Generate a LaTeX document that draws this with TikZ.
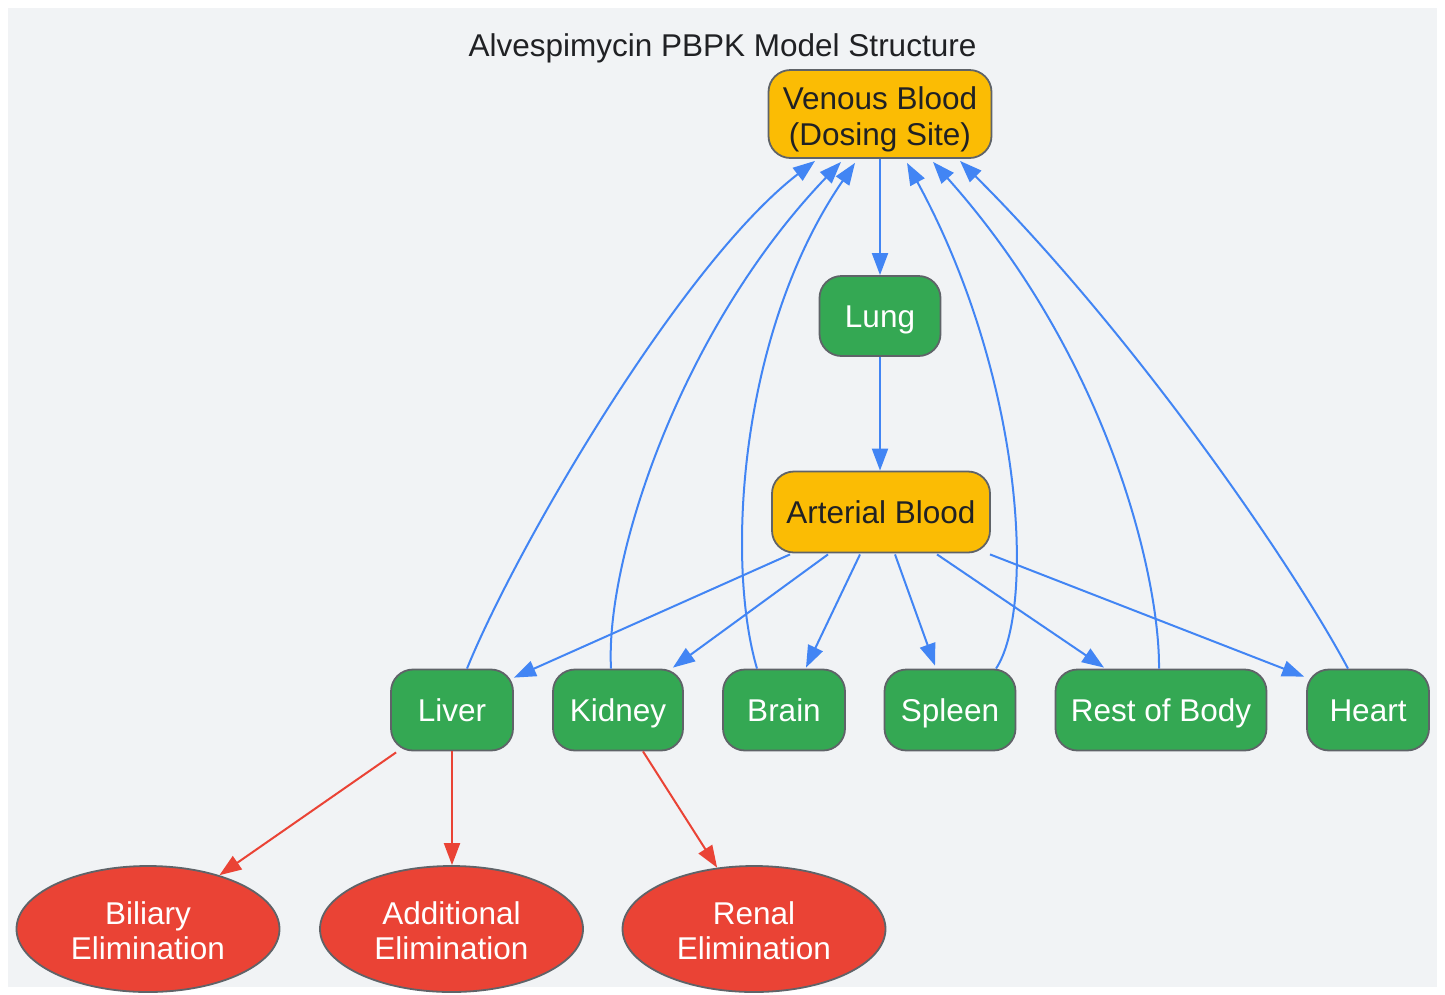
\documentclass[tikz,border=0pt]{standalone}
\usepackage{fontspec}
\setmainfont{Liberation Sans}
\usetikzlibrary{arrows.meta,shapes.geometric,calc}
\definecolor{bgc}{HTML}{F1F3F5}
\definecolor{yellowc}{HTML}{FBBC04}
\definecolor{greenc}{HTML}{34A853}
\definecolor{redc}{HTML}{EA4335}
\definecolor{bluec}{HTML}{4285F4}
\definecolor{bordc}{HTML}{5F6368}
\definecolor{textc}{HTML}{202124}
\newcommand{\lowerstrut}{\rule{0pt}{27pt}}
\tikzset{
  box/.style={draw=bordc, line width=1.8pt, rounded corners=22pt, inner sep=0pt,
    minimum height=81pt, align=center, font=\fontsize{31.5}{36}\selectfont},
  oneline/.style={text height=23pt, text depth=0pt},
  ybox/.style={box, fill=yellowc, text=textc},
  gbox/.style={box, oneline, fill=greenc, text=white},
  elim/.style={ellipse, draw=bordc, line width=1.8pt, fill=redc, text=white, inner sep=0pt,
    minimum width=263pt, minimum height=126pt, align=center, font=\fontsize{31.5}{35}\selectfont},
  bflow/.style={draw=bluec, line width=2pt, -{Triangle[length=22pt,width=16pt]}},
  rflow/.style={draw=redc, line width=2pt, -{Triangle[length=22pt,width=16pt]}},
}
\begin{document}
\begin{tikzpicture}[x=1pt,y=-1pt]
\useasboundingbox (0,0) rectangle (1445,994);
\fill[bgc] (8,8) rectangle (1437,987);
\node[font=\fontsize{31.5}{36}\selectfont, text=textc, anchor=base, inner sep=0pt] (title) at (722.5,56) {Alvespimycin PBPK Model Structure};
\node[ybox, minimum width=223pt, minimum height=88pt] (venous) at (880,114) {\lowerstrut Venous Blood\\\smash{(Dosing Site)}};
\node[gbox, minimum width=121pt, minimum height=80pt] (lung) at (880,316) {Lung};
\node[ybox, oneline, minimum width=218pt] (arterial) at (881,512) {Arterial Blood};
\node[gbox, minimum width=122pt] (liver) at (452,710) {Liver};
\node[gbox, minimum width=130pt] (kidney) at (618,710) {Kidney};
\node[gbox, minimum width=122pt] (brain) at (784,710) {Brain};
\node[gbox, minimum width=131pt] (spleen) at (950,710) {Spleen};
\node[gbox, minimum width=211pt] (rest) at (1161,710) {Rest of Body};
\node[gbox, minimum width=122pt] (heart) at (1368,710) {Heart};
\node[elim] (biliary) at (148,929) {\lowerstrut Biliary\\Elimination};
\node[elim] (additional) at (451.5,929) {\lowerstrut Additional\\Elimination};
\node[elim] (renal) at (754,929) {\lowerstrut Renal\\Elimination};

\draw[bflow] (venous.south) -- (lung.north);
\draw[bflow] (lung.south) -- (lung.south |- arterial.north);

\draw[bflow] ($(arterial.south)+(-91,1)$) -- ($(liver.north east)+(0,9)$);
\draw[bflow] ($(arterial.south)+(-53,1)$) -- ($(kidney.north east)+(-11,-1)$);
\draw[bflow] ($(arterial.south)+(-21,1)$) -- ($(brain.north)+(22,-1)$);
\draw[bflow] ($(arterial.south)+(14,1)$) -- ($(spleen.north)+(-15,-3)$);
\draw[bflow] ($(arterial.south)+(56,1)$) -- ($(rest.north)+(-57,-1)$);
\draw[bflow] ($(arterial.south)+(109,1)$) -- ($(heart.north west)+(-2,8)$);

\draw[bflow] ($(liver.north)+(15,0)$) .. controls (515,550) and (680,265) .. ($(venous.south)+(-65,2)$);
\draw[bflow] ($(kidney.north)+(-7,0)$) .. controls (605,560) and (680,330) .. ($(venous.south)+(-39,3)$);
\draw[bflow] ($(brain.north)+(-27,0)$) .. controls (725,560) and (740,330) .. ($(venous.south)+(-25,4)$);
\draw[bflow] ($(spleen.north)+(46,0)$) .. controls (1035,610) and (1025,380) .. ($(venous.south)+(27,4)$);
\draw[bflow] ($(rest.north)+(-2,0)$) .. controls (1160,580) and (1110,360) .. ($(venous.south)+(53,3)$);
\draw[bflow] ($(heart.north)+(-20,0)$) .. controls (1290,560) and (1130,330) .. ($(venous.south)+(80,2)$);

\draw[rflow] ($(liver.south west)+(6,1)$) -- (biliary.37);
\draw[rflow] (liver.south) -- (liver.south |- additional.north);
\draw[rflow] ($(kidney.south)+(25,0)$) -- (renal.121);
\end{tikzpicture}
\end{document}
